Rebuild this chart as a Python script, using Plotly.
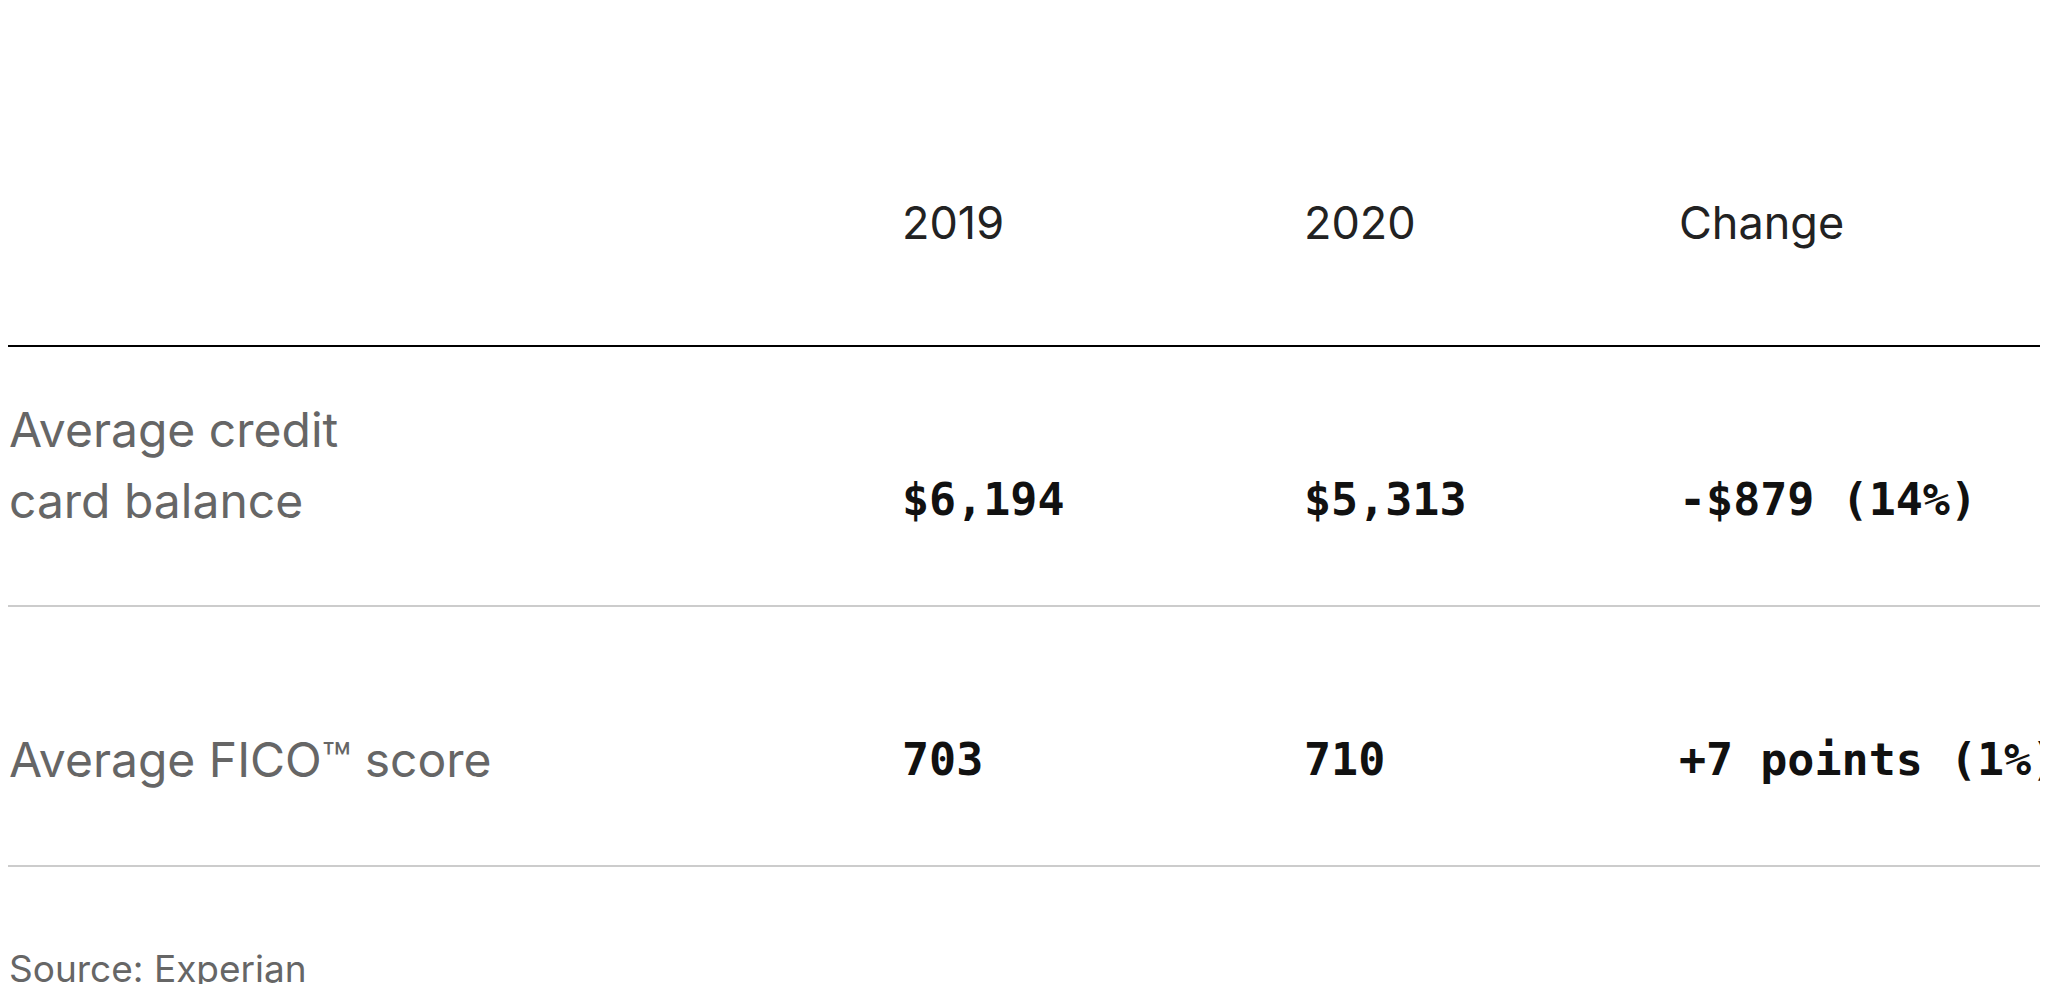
import plotly.graph_objects as go

title = "US credit debt changes from 2019-2020"
columns = ["2019", "2020", "Change"]
row_labels = [["Average credit", "card balance"], ["Average FICO™ score"]]
values_2019 = ["$6,194", "703"]
values_2020 = ["$5,313", "710"]
changes = ["-$879 (14%)", "+7 points (1%)"]
source = "Source: Experian"

W, H = 2048, 984
col_x = [893, 1295, 1670]
row_y = [491, 751]

fig = go.Figure()
ann = []
ann.append(dict(x=-2, y=30, text=f"<b>{title}</b>", xanchor="left", yanchor="middle",
                font=dict(family="Inter", size=57, color="#111")))
for cx, c in zip(col_x, columns):
    ann.append(dict(x=cx, y=214, text=c, xanchor="left", yanchor="middle",
                    font=dict(family="Inter", size=45, color="#222")))
for ry, lab, a, b, c in zip(row_y, row_labels, values_2019, values_2020, changes):
    if len(lab) == 2:
        ys = [ry - 70, ry + 1]
    else:
        ys = [ry]
    for yy, t in zip(ys, lab):
        ann.append(dict(x=0, y=yy, text=t, xanchor="left", yanchor="middle",
                        font=dict(family="Inter", size=48, color="#666")))
    for cx, v in zip(col_x, [a, b, c]):
        ann.append(dict(x=cx, y=ry, text=f"<b>{v}</b>", xanchor="left", yanchor="middle",
                        font=dict(family="DejaVu Sans Mono", size=45, color="#111")))
ann.append(dict(x=0, y=960, text=source, xanchor="left", yanchor="middle",
                font=dict(family="Inter", size=37, color="#666")))
for a in ann:
    a.update(xref="x", yref="y", showarrow=False, borderpad=0)

shapes = [
    dict(type="line", x0=0, x1=W, y0=338, y1=338, line=dict(color="#000", width=2)),
    dict(type="line", x0=0, x1=W, y0=598, y1=598, line=dict(color="#ccc", width=2)),
    dict(type="line", x0=0, x1=W, y0=858, y1=858, line=dict(color="#ccc", width=2)),
]
for s in shapes:
    s.update(xref="x", yref="y")

fig.update_layout(width=W, height=H, margin=dict(l=0, r=0, t=0, b=0, pad=0, autoexpand=False),
                  paper_bgcolor="white", plot_bgcolor="white",
                  xaxis=dict(range=[0, W], visible=False, fixedrange=True),
                  yaxis=dict(range=[H, 0], visible=False, fixedrange=True),
                  annotations=ann, shapes=shapes, showlegend=False)
fig.write_html("out.html")
